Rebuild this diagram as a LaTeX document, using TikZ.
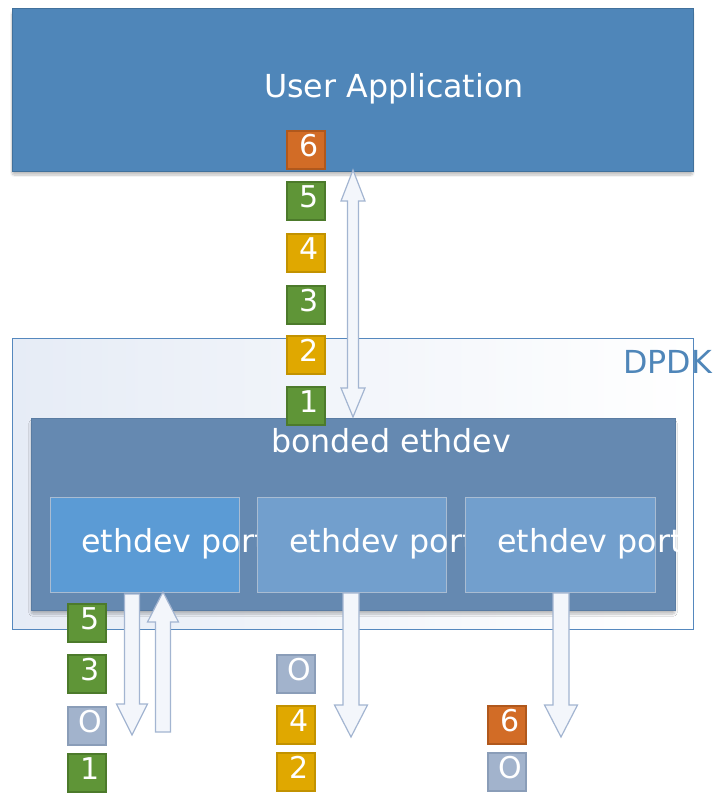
\documentclass[tikz,border=0pt]{standalone}
\usepackage{fontspec}
\setmainfont{DejaVu Sans}
\usetikzlibrary{shadows.blur}
\definecolor{appfill}{HTML}{4F86B9}
\definecolor{appdraw}{HTML}{41719C}
\definecolor{dpdkline}{HTML}{5588BE}
\definecolor{dpdkleft}{HTML}{E6ECF6}
\definecolor{bondfill}{HTML}{6589B1}
\definecolor{bonddraw}{HTML}{5A7CA2}
\definecolor{port1}{HTML}{5B9BD5}
\definecolor{portn}{HTML}{729FCD}
\definecolor{portdraw}{HTML}{A9BCD2}
\definecolor{bgreen}{HTML}{5F9537}
\definecolor{bgreenD}{HTML}{4C7A2B}
\definecolor{byellow}{HTML}{E0A800}
\definecolor{byellowD}{HTML}{C29200}
\definecolor{borange}{HTML}{D26C26}
\definecolor{borangeD}{HTML}{B0581C}
\definecolor{bgrey}{HTML}{A2B3CC}
\definecolor{bgreyD}{HTML}{8A9DB8}
\definecolor{arrfill}{HTML}{F3F6FB}
\definecolor{arrdraw}{HTML}{A3B5D1}
\definecolor{dpdktext}{HTML}{4F86B9}
\newcommand\badgetext[1]{\hspace*{6pt}#1}
\begin{document}
\begin{tikzpicture}[x=1pt,y=-1pt,
  bigtext/.style={text=white,font=\fontsize{31.7}{38}\selectfont,inner sep=0pt,anchor=base west},
  box/.style={rectangle,inner sep=0pt,line width=1pt},
  softshadow/.style={blur shadow={shadow blur steps=8,shadow xshift=0pt,shadow yshift=-4pt,shadow opacity=25,shadow blur extra rounding=2pt}},
  badge/.style={rectangle,minimum width=38pt,minimum height=38pt,inner sep=0pt,line width=1.2pt,
    text=white,font=\fontsize{30}{36}\selectfont,text height=21.9pt,text depth=8pt},
  bg/.style={badge,fill=bgreen,draw=bgreenD},
  by/.style={badge,fill=byellow,draw=byellowD},
  bo/.style={badge,fill=borange,draw=borangeD},
  bgr/.style={badge,fill=bgrey,draw=bgreyD},
  blockarrow/.style={fill=arrfill,draw=arrdraw,line width=1.2pt,line join=miter}]
\useasboundingbox (0,0) rectangle (714,796);
% DPDK frame
\node[box,draw=dpdkline,left color=dpdkleft,right color=white,minimum width=681pt,minimum height=291pt] (dpdk) at (352.5,483.5) {};
\node[text=dpdktext,font=\fontsize{31.7}{38}\selectfont,inner sep=0pt,anchor=base west] (dpdklabel) at (623,373) {DPDK};
% user application
\node[box,fill=appfill,draw=appdraw,minimum width=681pt,minimum height=163pt,softshadow] (app) at (352.5,89.5) {};
\node[bigtext] (applabel) at (264,97) {User Application};
% bonded ethdev
\node[box,fill=bondfill,draw=bonddraw,minimum width=644pt,minimum height=192pt,softshadow] (bond) at (353,514) {};
\node[bigtext] (bondlabel) at (271,452) {bonded ethdev};
% ports
\node[box,fill=port1,draw=portdraw,minimum width=189pt,minimum height=95pt] (p1) at (144.5,544.5) {};
\node[bigtext] (p1label) at (81,552) {ethdev port};
\node[box,fill=portn,draw=portdraw,minimum width=189pt,minimum height=95pt] (p2) at (351.5,544.5) {};
\node[bigtext] (p2label) at (289,552) {ethdev port};
\node[box,fill=portn,draw=portdraw,minimum width=190pt,minimum height=95pt] (p3) at (560,544.5) {};
\node[bigtext] (p3label) at (497,552) {ethdev port};
% top badges
\node[bo] (t6) at (306,150) {\badgetext{6}};
\node[bg] (t5) at (306,201) {\badgetext{5}};
\node[by] (t4) at (306,253) {\badgetext{4}};
\node[bg] (t3) at (306,305) {\badgetext{3}};
\node[by] (t2) at (306,355) {\badgetext{2}};
\node[bg] (t1) at (306,406) {\badgetext{1}};
% column A badges
\node[bg] (a5) at (87,623) {\badgetext{5}};
\node[bg] (a3) at (87,674) {\badgetext{3}};
\node[bgr] (a0) at (87,726) {\badgetext{O}};
\node[bg] (a1) at (87,773) {\badgetext{1}};
% column B badges
\node[bgr] (b0) at (296,674) {\badgetext{O}};
\node[by] (b4) at (296,725) {\badgetext{4}};
\node[by] (b2) at (296,772) {\badgetext{2}};
% column C badges
\node[bo] (c6) at (507,725) {\badgetext{6}};
\node[bgr] (c0) at (507,772) {\badgetext{O}};
% double arrow app <-> bonded
\draw[blockarrow] (353,170) -- (365,201) -- (358.5,201) -- (358.5,388) -- (365,388) -- (353,417)
  -- (341,388) -- (347.5,388) -- (347.5,201) -- (341,201) -- cycle;
% column A down arrow
\draw[blockarrow] (124.5,594) -- (124.5,704) -- (116.5,704) -- (132,735) -- (147.5,704) -- (139.5,704) -- (139.5,594) -- cycle;
% column A up arrow
\draw[blockarrow] (155.5,732) -- (155.5,622) -- (147.5,622) -- (163,592) -- (178.5,622) -- (170.5,622) -- (170.5,732) -- cycle;
% column B down arrow
\draw[blockarrow] (343,593) -- (343,705) -- (334.5,705) -- (351,737) -- (367.5,705) -- (359,705) -- (359,593) -- cycle;
% column C down arrow
\draw[blockarrow] (553,593) -- (553,705) -- (544.5,705) -- (561,737) -- (577.5,705) -- (569,705) -- (569,593) -- cycle;
\end{tikzpicture}
\end{document}
